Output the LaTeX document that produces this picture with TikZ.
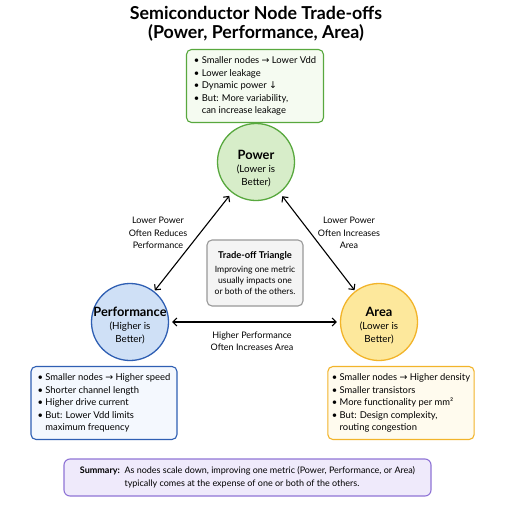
\documentclass[tikz,border=0pt]{standalone}
\usepackage{fontspec}
\setmainfont{Lato}
\newfontfamily\symfont{DejaVu Sans}
\usetikzlibrary{positioning,arrows.meta}

\definecolor{pwrline}{HTML}{58A83E}
\definecolor{pwrfill}{HTML}{D7EDC9}
\definecolor{pwrbox}{HTML}{F5FBF1}
\definecolor{perfline}{HTML}{2F5FB3}
\definecolor{perffill}{HTML}{CFE0F6}
\definecolor{perfbox}{HTML}{F4F8FE}
\definecolor{arealine}{HTML}{F2B42A}
\definecolor{areafill}{HTML}{FDE89C}
\definecolor{areabox}{HTML}{FFFBEE}
\definecolor{tribox}{HTML}{F4F4F4}
\definecolor{triline}{HTML}{999999}
\definecolor{sumline}{HTML}{8F74D6}
\definecolor{sumfill}{HTML}{EFEAFB}

\newcommand{\ra}{{\symfont\char"2192}}
\newcommand{\da}{{\symfont\char"2193}}
\newcommand{\hang}{\phantom{•\ }}

\tikzset{
  metric/.style={circle, line width=1.3pt, minimum size=77pt, inner sep=0pt},
  metrictext/.style={align=center, font=\fontsize{9.8}{13}\selectfont},
  infobox/.style={rounded corners=5pt, line width=1.1pt, align=left,
    inner sep=4pt, font=\fontsize{9.4}{12.6}\selectfont},
  tradearrow/.style={{Straight Barb[length=4pt]}-{Straight Barb[length=4pt]}, line width=1.1pt},
  edgetext/.style={align=center, font=\fontsize{9}{12.3}\selectfont}
}

\begin{document}
\begin{tikzpicture}[x=1pt, y=-1pt]
  \useasboundingbox[fill=white] (0,0) rectangle (512,512);

  % title
  \node[align=center, font=\fontsize{17.8}{19.5}\bfseries\selectfont] (title) at (256,24)
    {Semiconductor Node Trade-offs\\(Power, Performance, Area)};

  % the three metrics
  \node[metric, draw=pwrline, fill=pwrfill] (power) at (256,162) {};
  \node[metric, draw=perfline, fill=perffill] (perf) at (130,322) {};
  \node[metric, draw=arealine, fill=areafill] (area) at (379,322) {};
  \node[metrictext] (powertext) at (256,169) {{\fontsize{12.8}{14}\bfseries\selectfont Power}\\(Lower is\\Better)};
  \node[metrictext] (perftext) at (130,326) {{\fontsize{12.8}{14}\bfseries\selectfont Performance}\\(Higher is\\Better)};
  \node[metrictext] (areatext) at (379,326) {{\fontsize{12.8}{14}\bfseries\selectfont Area}\\(Lower is\\Better)};

  % detail boxes
  \node[infobox, draw=pwrline, fill=pwrbox, minimum width=137pt, minimum height=73pt] (powerbox) at (255,86)
    {• Smaller nodes \ra{} Lower Vdd\\• Lower leakage\\• Dynamic power \da\\• But: More variability,\\\hang can increase leakage};
  \node[infobox, draw=perfline, fill=perfbox, minimum width=146pt, minimum height=73pt] (perfbox) at (104,403)
    {• Smaller nodes \ra{} Higher speed\\• Shorter channel length\\• Higher drive current\\• But: Lower Vdd limits\\\hang maximum frequency};
  \node[infobox, draw=arealine, fill=areabox, minimum width=146pt, minimum height=73pt] (areabox) at (401,403)
    {• Smaller nodes \ra{} Higher density\\• Smaller transistors\\• More functionality per mm²\\• But: Design complexity,\\\hang routing congestion};

  % centre box
  \node[rounded corners=5pt, line width=1.1pt, draw=triline, fill=tribox, align=center,
    minimum width=96pt, minimum height=66pt, font=\fontsize{8.6}{11}\selectfont] (tri) at (255,273)
    {{\fontsize{9.4}{12}\bfseries\selectfont Trade-off Triangle}\\[3pt]Improving one metric\\usually impacts one\\or both of the others.};

  % trade-off arrows
  \draw[tradearrow, shorten <=1pt, shorten >=4pt] (perf) -- (power);
  \draw[tradearrow, shorten <=4pt, shorten >=1pt] (power) -- (area);
  \draw[tradearrow, shorten <=3pt, shorten >=3pt] (perf) -- (area);
  \node[edgetext] (lblleft) at (158,233) {Lower Power\\Often Reduces\\Performance};
  \node[edgetext] (lblright) at (349,233) {Lower Power\\Often Increases\\Area};
  \node[edgetext] (lblbottom) at (252,341) {Higher Performance\\Often Increases Area};

  % summary
  \node[rounded corners=6pt, line width=1.1pt, draw=sumline, fill=sumfill,
    minimum width=367pt, minimum height=37pt, font=\fontsize{9}{12.8}\selectfont] (summary) at (247.5,477.5)
    {\textbf{Summary:}\ \ \begin{tabular}[t]{@{}l@{}}As nodes scale down, improving one metric (Power, Performance, or Area)\\typically comes at the expense of one or both of the others.\end{tabular}};
\end{tikzpicture}
\end{document}
